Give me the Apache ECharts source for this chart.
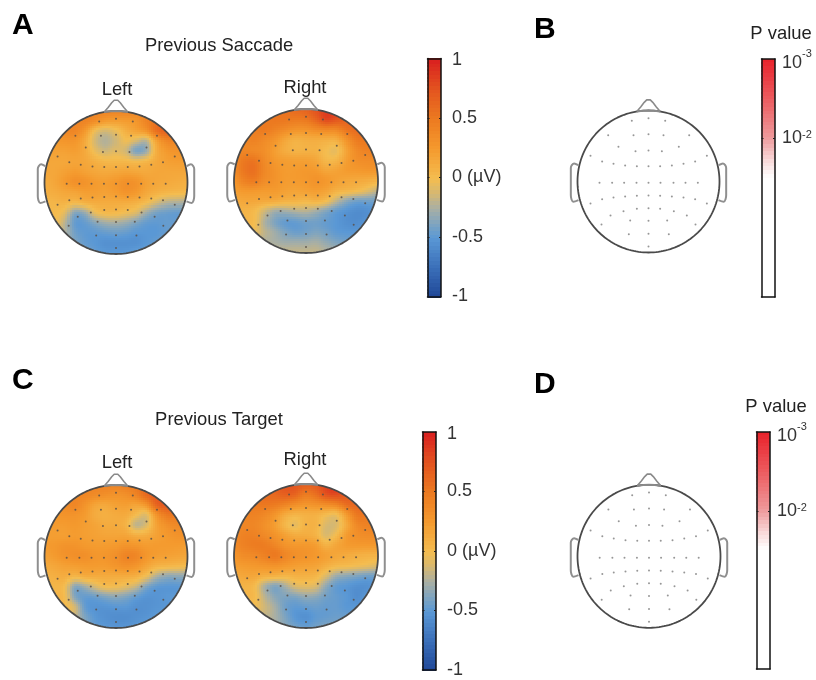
<!DOCTYPE html>
<html><head><meta charset="utf-8">
<style>html,body{margin:0;padding:0;background:#fff}#c{width:816px;height:680px}</style>
<script src="https://cdn.jsdelivr.net/npm/echarts@6/dist/echarts.min.js"></script>
</head><body><div id="c"></div>
<script>
// Scalp voltage in microvolts on a 15x15 grid (top row = front of head).
const saccadeLeft = [
[.38,.38,.38,.38,.42,.42,.42,.42,.42,.42,.42,.5,.5,.5,.5],
[.38,.38,.38,.42,.42,.34,.24,.22,.24,.28,.42,.55,.62,.62,.62],
[.34,.34,.38,.4,.26,-.02,-.12,-.04,.1,.18,.28,.55,.66,.62,.62],
[.26,.26,.28,.28,.14,-.12,-.22,-.14,-.02,-.12,-.2,.18,.4,.42,.42],
[.2,.2,.2,.22,.14,-.04,-.14,-.08,-.14,-.38,-.3,.1,.26,.3,.3],
[.16,.16,.16,.18,.16,.1,.05,.05,.05,.02,.06,.14,.2,.22,.22],
[.16,.16,.2,.24,.2,.16,.14,.16,.18,.16,.14,.16,.16,.16,.16],
[.12,.16,.24,.32,.3,.24,.22,.26,.32,.3,.2,.16,.14,.12,.1],
[.1,.12,.16,.18,.22,.22,.2,.24,.3,.26,.16,.1,.06,.04,.03],
[.05,.06,.08,.04,.1,.13,.13,.13,.13,.1,.02,-.1,-.2,-.22,-.24],
[.02,.02,-.06,-.36,-.3,-.06,.02,.02,-.03,-.1,-.28,-.4,-.44,-.46,-.44],
[.0,.0,-.18,-.46,-.46,-.36,-.28,-.26,-.3,-.38,-.46,-.48,-.46,-.46,-.46],
[-.18,-.18,-.22,-.42,-.48,-.48,-.46,-.44,-.46,-.5,-.5,-.5,-.46,-.46,-.46],
[-.28,-.28,-.32,-.38,-.46,-.5,-.54,-.54,-.54,-.54,-.5,-.46,-.42,-.42,-.42],
[-.28,-.28,-.32,-.38,-.42,-.46,-.5,-.5,-.5,-.46,-.46,-.42,-.38,-.38,-.38]];
const saccadeRight = [
[.5,.5,.5,.5,.52,.55,.6,.65,.76,.85,.85,.76,.7,.7,.7],
[.5,.5,.5,.5,.52,.52,.5,.52,.65,.82,.76,.65,.6,.6,.6],
[.44,.44,.46,.5,.44,.38,.32,.32,.38,.42,.42,.55,.6,.6,.6],
[.38,.4,.44,.38,.3,.18,.1,.12,.13,.12,.13,.33,.5,.52,.5],
[.38,.4,.38,.34,.22,.12,.07,.08,.08,.01,-.04,.2,.38,.44,.44],
[.38,.5,.52,.38,.26,.22,.2,.2,.16,.04,.05,.22,.33,.36,.36],
[.38,.52,.56,.4,.3,.24,.24,.26,.24,.16,.18,.24,.26,.28,.28],
[.3,.44,.48,.36,.3,.24,.24,.26,.3,.26,.2,.16,.14,.12,.08],
[.22,.26,.26,.24,.24,.2,.18,.2,.22,.18,.08,.04,0,-.08,-.18],
[.14,.16,.16,.14,.12,.08,.07,.04,.07,.0,-.18,-.34,-.42,-.42,-.42],
[.07,.07,.03,-.12,-.26,-.26,-.22,-.2,-.26,-.36,-.46,-.52,-.56,-.55,-.5],
[.03,.04,.01,-.22,-.38,-.46,-.46,-.42,-.42,-.46,-.5,-.55,-.56,-.52,-.5],
[-.08,-.04,-.04,-.18,-.28,-.38,-.44,-.42,-.38,-.42,-.48,-.5,-.5,-.46,-.46],
[-.18,-.18,-.18,-.22,-.25,-.28,-.28,-.28,-.26,-.32,-.38,-.42,-.42,-.42,-.42],
[-.18,-.18,-.18,-.18,-.18,-.18,-.18,-.18,-.18,-.22,-.26,-.32,-.32,-.32,-.32]];
const targetLeft = [
[.42,.42,.42,.42,.42,.42,.42,.42,.46,.5,.55,.6,.6,.6,.6],
[.38,.38,.38,.4,.4,.36,.33,.3,.33,.42,.6,.7,.72,.72,.72],
[.33,.33,.36,.4,.3,.18,.15,.2,.22,.18,.28,.62,.72,.66,.66],
[.28,.28,.3,.3,.24,.13,.1,.13,.13,.01,-.08,.28,.5,.5,.5],
[.24,.24,.24,.26,.22,.18,.13,.13,.07,-.18,-.1,.18,.33,.38,.38],
[.22,.22,.22,.24,.22,.2,.18,.18,.18,.12,.13,.2,.26,.3,.3],
[.24,.26,.3,.3,.26,.24,.24,.26,.3,.28,.24,.24,.24,.24,.22],
[.2,.24,.3,.33,.33,.28,.28,.33,.42,.4,.28,.22,.2,.18,.16],
[.13,.16,.2,.22,.24,.24,.24,.28,.32,.28,.18,.08,.05,.03,.01],
[.08,.1,.12,.06,.12,.13,.13,.13,.13,.1,-.02,-.22,-.32,-.32,-.32],
[.05,.05,.01,-.35,-.28,-.13,-.02,-.02,-.08,-.18,-.38,-.48,-.5,-.5,-.46],
[.05,.05,.02,-.36,-.46,-.44,-.38,-.34,-.38,-.46,-.52,-.52,-.5,-.48,-.46],
[-.04,-.04,.03,-.13,-.46,-.52,-.52,-.5,-.5,-.54,-.54,-.52,-.5,-.46,-.46],
[-.18,-.18,-.08,-.18,-.38,-.5,-.54,-.56,-.56,-.54,-.52,-.48,-.42,-.42,-.42],
[-.22,-.22,-.22,-.28,-.36,-.46,-.5,-.52,-.52,-.5,-.46,-.42,-.38,-.38,-.38]];
const targetRight = [
[.6,.6,.6,.65,.7,.74,.74,.68,.7,.82,.9,.76,.7,.7,.7],
[.55,.55,.55,.6,.62,.68,.65,.5,.58,.76,.8,.7,.6,.6,.6],
[.5,.5,.5,.52,.5,.44,.36,.3,.33,.38,.44,.6,.62,.6,.6],
[.44,.44,.44,.4,.3,.15,.08,.1,.1,.03,.0,.28,.52,.52,.52],
[.38,.4,.4,.33,.22,.05,-.05,.07,.07,-.1,-.1,.15,.38,.44,.44],
[.38,.44,.44,.38,.3,.2,.12,.12,.07,-.1,.01,.24,.33,.36,.36],
[.38,.44,.48,.48,.4,.3,.26,.26,.22,.08,.16,.24,.26,.26,.26],
[.3,.36,.38,.44,.5,.4,.33,.3,.26,.2,.16,.13,.1,.08,.07],
[.22,.24,.26,.28,.3,.26,.22,.2,.18,.1,.03,.01,-.02,-.05,-.1],
[.13,.16,.16,.1,.08,.05,.08,.08,.05,-.1,-.28,-.34,-.38,-.42,-.42],
[.07,.07,.03,-.22,-.36,-.25,-.1,-.06,-.1,-.32,-.46,-.5,-.54,-.54,-.5],
[.04,.04,.03,-.18,-.34,-.38,-.38,-.32,-.34,-.42,-.46,-.5,-.56,-.5,-.5],
[-.05,-.05,-.02,-.13,-.26,-.42,-.48,-.46,-.44,-.46,-.46,-.5,-.5,-.5,-.5],
[-.13,-.13,-.13,-.18,-.25,-.38,-.5,-.54,-.48,-.46,-.44,-.44,-.44,-.44,-.44],
[-.18,-.18,-.18,-.22,-.26,-.34,-.42,-.46,-.42,-.38,-.38,-.38,-.38,-.38,-.38]];

// Electrode positions in head units (head radius = 1).
const electrodeX = [-.235,0,.235,-.568,-.211,0,.211,.573,-.423,-.183,0,.188,.427,-.817,.822,
 -.653,-.493,-.329,-.164,0,.164,.329,.493,.657,-.69,-.512,-.343,-.169,0,.169,.352,.521,.695,
 -.653,-.493,-.329,-.164,0,.164,.329,.493,.657,-.817,.822,-.352,-.164,0,.164,.357,-.535,.54,
 -.258,0,.263,-.662,.662,-.277,0,.286,0];
const electrodeY = [.854,.892,.854,.653,.653,.667,.653,.653,.489,.427,.437,.427,.489,.362,.362,
 .282,.249,.225,.216,.216,.216,.225,.249,.282,-.019,-.019,-.019,-.019,-.019,-.019,-.019,-.019,-.019,
 -.249,-.225,-.211,-.202,-.197,-.202,-.211,-.225,-.249,-.31,-.31,-.418,-.385,-.376,-.385,-.418,-.479,-.479,
 -.549,-.554,-.549,-.606,-.606,-.742,-.737,-.742,-.915];

// Head outline in head units.
const noseX = [-.165,-.11,-.06,-.025,0,.025,.06,.11,.165];
const noseY = [.985,1.05,1.115,1.15,1.16,1.15,1.115,1.05,.985];
const earX = [.99,1.047,1.08,1.094,1.094,1.085,1.06,.986];
const earY = [.23,.254,.23,.19,-.19,-.25,-.286,-.263];

// Colour scales.
const voltStops = [-1,-.75,-.5,-.38,-.25,-.12,0,.25,.5,.75,1];
const voltColors = ['#1f4697','#3a6eb8','#5a98d5','#7ea4c0','#a9afa4','#d6b871','#f4bd50','#f49a2e','#ec7a20','#e3541f','#d9201f'];
const voltTicks = {'1':'1','0.5':'0.5','0':'0 (µV)','-0.5':'-0.5','-1':'-1'};
const pStops = [-3,-2.5,-2,-1.7,-1.5,0];       // log10 of the P value
const pColors = ['#e8212a','#ec5a5e','#ee9a9c','#f9dcdc','#ffffff','#ffffff'];
const pTicks = {'-3':'-3','-2':'-2'};

// Panel layout.
const maps = [
 {values:saccadeLeft, cx:116, cy:182.5, r:71.5},
 {values:saccadeRight,cx:306, cy:181,   r:72},
 {values:targetLeft,  cx:116, cy:556.5, r:71.5},
 {values:targetRight, cx:306, cy:556,   r:72},
 {values:null,        cx:648.5,cy:181.5,r:71},
 {values:null,        cx:649, cy:556.3, r:71.5}
];
const voltBars = [{l:427.5,t:58.5,w:13.5,h:238},{l:422.5,t:432,w:13.5,h:238}];
const pBars = [{l:761.5,t:59,w:13.5,h:238},{l:756.5,t:432,w:13.5,h:237}];
const texts = [
 {t:'A',x:12,y:26,b:1,a:'left'},{t:'B',x:534,y:30,b:1,a:'left'},{t:'C',x:12,y:381,b:1,a:'left'},{t:'D',x:534,y:385,b:1,a:'left'},
 {t:'Previous Saccade',x:219,y:45.5},{t:'Previous Target',x:219,y:419.5},
 {t:'Left',x:117,y:90},{t:'Right',x:305,y:88},{t:'Left',x:117,y:463},{t:'Right',x:305,y:460},
 {t:'P value',x:781,y:34},{t:'P value',x:776,y:407}
];

const FONT = '"Liberation Sans", Arial, sans-serif';
function hex(c){return [1,3,5].map(i=>parseInt(c.substr(i,2),16));}
function colourAt(stops,cols,v){
  v=Math.max(stops[0],Math.min(stops[stops.length-1],v));
  let i=0; while(i<stops.length-2 && v>stops[i+1]) i++;
  const t=(v-stops[i])/(stops[i+1]-stops[i]), a=hex(cols[i]), b=hex(cols[i+1]);
  return 'rgb('+a.map((x,k)=>Math.round(x+(b[k]-x)*t)).join(',')+')';
}
function cr(p0,p1,p2,p3,t){return .5*((2*p1)+(-p0+p2)*t+(2*p0-5*p1+4*p2-p3)*t*t+(-p0+3*p1-3*p2+p3)*t*t*t);}
function sample(g,hx,hy){
  const n=g.length-1, fx=(hx+1)/2*n, fy=(1-hy)/2*n;
  const ix=Math.max(0,Math.min(n-1,Math.floor(fx))), iy=Math.max(0,Math.min(n-1,Math.floor(fy)));
  const at=(r,c)=>g[Math.max(0,Math.min(n,r))][Math.max(0,Math.min(n,c))];
  const rows=[];
  for(let r=-1;r<=2;r++) rows.push(cr(at(iy+r,ix-1),at(iy+r,ix),at(iy+r,ix+1),at(iy+r,ix+2),fx-ix));
  return cr(rows[0],rows[1],rows[2],rows[3],fy-iy);
}

const SPAN=1.25, SUB=5;
const grid=[],xAxis=[],yAxis=[],series=[];
function hiddenAxis(i,min,max){return {gridIndex:i,type:'value',min,max,show:false};}

maps.forEach(m=>{
  const gi=grid.length, s=m.r*SPAN;
  grid.push({left:m.cx-s,top:m.cy-s,width:2*s,height:2*s});
  xAxis.push(hiddenAxis(gi,-SPAN,SPAN)); yAxis.push(hiddenAxis(gi,-SPAN,SPAN));
  const ax={xAxisIndex:xAxis.length-1,yAxisIndex:yAxis.length-1};
  if(m.values){
    const n=m.values.length-1, step=2/n, cells=[];
    m.values.forEach((row,r)=>row.forEach((v,c)=>cells.push([-1+c*step,1-r*step,v])));
    series.push(Object.assign({type:'custom',coordinateSystem:'cartesian2d',data:cells,silent:true,clip:false,animation:false,z:1,
      encode:{x:0,y:1},
      renderItem(p,api){
        const cx=api.value(0),cy=api.value(1),d=step/SUB,children=[];
        for(let i=0;i<SUB;i++)for(let j=0;j<SUB;j++){
          const hx=cx-step/2+(i+.5)*d, hy=cy+step/2-(j+.5)*d;
          if(hx*hx+hy*hy>1.08||Math.abs(hx)>1.02||Math.abs(hy)>1.02) continue;
          const a=api.coord([hx-d/2,hy+d/2]), b=api.coord([hx+d/2,hy-d/2]);
          const x=Math.floor(a[0]),y=Math.floor(a[1]);
          children.push({type:'rect',shape:{x,y,width:Math.ceil(b[0])-x+1,height:Math.ceil(b[1])-y+1},
            style:{fill:colourAt(voltStops,voltColors,sample(m.values,hx,hy)),stroke:null}});
        }
        const o=api.coord([0,0]), e=api.coord([1,0]);
        return {type:'group',children,clipPath:{type:'circle',shape:{cx:o[0],cy:o[1],r:e[0]-o[0]}}};
      }},ax));
  }
  const circle=[]; for(let a=0;a<=180;a++){const t=a/90*Math.PI; circle.push([Math.cos(t),Math.sin(t)]);}
  const line=(data,color,width,smooth)=>Object.assign({type:'line',data,showSymbol:false,symbol:'none',silent:true,animation:false,clip:false,z:3,smooth:smooth||false,
    lineStyle:{color,width},itemStyle:{color}},ax);
  series.push(line(circle,'#4a4a4a',1.8));
  series.push(line(noseX.map((x,i)=>[x,noseY[i]]),'#8a8a8a',1.6));
  series.push(line([[noseX[0],noseY[0]],[-.08,.997],[0,1],[.08,.997],[noseX[8],noseY[8]]],'#8a8a8a',2));
  series.push(line(earX.map((x,i)=>[x,earY[i]]),'#8f8f8f',2,.3));
  series.push(line(earX.map((x,i)=>[-x,earY[i]]),'#8f8f8f',2,.3));
  series.push(Object.assign({type:'scatter',data:electrodeX.map((x,i)=>[x,electrodeY[i]]),symbol:'circle',symbolSize:2,silent:true,animation:false,z:4,
    itemStyle:{color:m.values?'#5a5048':'#8c8c8c',opacity:m.values?.85:.9}},ax));
});

function colourBar(b,min,max,inverse,stops,cols,tickVals,labelVals,fmt,margin){
  const gi=grid.length;
  grid.push({left:b.l,top:b.t,width:b.w,height:b.h});
  const edge={show:true,lineStyle:{color:'#111',width:1.5}};
  const xa=xAxis.length;
  xAxis.push({gridIndex:gi,type:'value',min:0,max:1,position:'bottom',z:10,axisLine:Object.assign({onZero:false},edge),axisTick:{show:false},axisLabel:{show:false},splitLine:{show:false}});
  xAxis.push({gridIndex:gi,type:'value',min:0,max:1,position:'top',z:10,axisLine:Object.assign({onZero:false},edge),axisTick:{show:false},axisLabel:{show:false},splitLine:{show:false}});
  const ya=yAxis.length;
  yAxis.push({gridIndex:gi,type:'value',min,max,inverse,interval:1/2,position:'right',z:10,axisLine:Object.assign({onZero:false},edge),
    axisTick:{show:true,inside:true,length:2,customValues:tickVals,lineStyle:{color:'#222',width:1}},
    axisLabel:{show:true,margin,customValues:labelVals,formatter:fmt,color:'#333',fontFamily:FONT,fontSize:18,align:'left',
      rich:{b:{fontFamily:FONT,fontSize:18,color:'#333'},s:{fontFamily:FONT,fontSize:11,color:'#333',verticalAlign:'top',padding:[0,0,6,0]},
        bLow:{fontFamily:FONT,fontSize:18,color:'#333',padding:[8,0,0,0]},sLow:{fontFamily:FONT,fontSize:11,color:'#333',verticalAlign:'top',padding:[2,0,0,0]},
        low:{fontFamily:FONT,fontSize:18,color:'#333',padding:[4,0,0,0]}}},
    splitLine:{show:false}});
  yAxis.push({gridIndex:gi,type:'value',min,max,inverse,interval:1/2,position:'left',z:10,axisLine:Object.assign({onZero:false},edge),
    axisTick:{show:true,inside:true,length:2,customValues:tickVals,lineStyle:{color:'#222',width:1}},axisLabel:{show:false},splitLine:{show:false}});
  const levels=[],N=64;
  for(let i=0;i<N;i++){levels.push([min+(max-min)*i/N,min+(max-min)*(i+1)/N]);}
  series.push({type:'custom',coordinateSystem:'cartesian2d',xAxisIndex:xa,yAxisIndex:ya,data:levels,silent:true,animation:false,z:2,encode:{y:[0,1]},
    renderItem(p,api){
      const lo=api.value(0),hi=api.value(1);
      const a=api.coord([0,lo]),b2=api.coord([1,hi]);
      const y0=Math.min(a[1],b2[1]),y1=Math.max(a[1],b2[1]);
      return {type:'rect',shape:{x:a[0],y:Math.floor(y0),width:b2[0]-a[0],height:Math.ceil(y1)-Math.floor(y0)+1},
        style:{fill:colourAt(stops,cols,(lo+hi)/2),stroke:null}};
    }});
}
voltBars.forEach(b=>colourBar(b,-1,1,false,voltStops,voltColors,[-.5,0,.5],Object.keys(voltTicks).map(Number),v=>{
  const s=voltTicks[String(v)]||'';
  return v===1?'{low|'+s+'}':s;
},11));
pBars.forEach(b=>colourBar(b,-3,0,true,pStops,pColors,[-2],Object.keys(pTicks).map(Number),v=>{
  if(!pTicks[String(v)]) return '';
  return v===-3?'{bLow|10}{sLow|'+pTicks[String(v)]+'}':'{b|10}{s|'+pTicks[String(v)]+'}';
},7));

const title=texts.map(o=>({text:o.t,left:o.x,top:o.y,textAlign:o.a||'center',textVerticalAlign:'middle',padding:0,
  textStyle:{fontFamily:FONT,fontSize:o.b?30:18.4,fontWeight:o.b?'bold':'normal',color:o.b?'#000':'#222'}}));

const chart=echarts.init(document.getElementById('c'),null,{renderer:'canvas',width:816,height:680});
chart.setOption({animation:false,backgroundColor:'#fff',title,grid,xAxis,yAxis,series,tooltip:{show:false},legend:{show:false}});
</script></body></html>
